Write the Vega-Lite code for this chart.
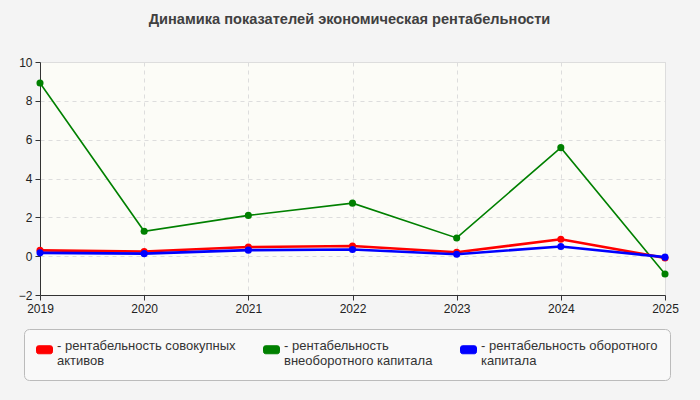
{
  "$schema": "https://vega.github.io/schema/vega-lite/v6.json",
  "width": 625,
  "height": 233,
  "autosize": {"type": "none"},
  "padding": {"left": 40, "top": 62, "right": 35, "bottom": 105},
  "background": "#f4f4f4",
  "title": {
    "text": "Динамика показателей экономическая рентабельности",
    "font": "Liberation Sans",
    "fontSize": 14.6,
    "fontWeight": "bold",
    "color": "#404040",
    "anchor": "middle",
    "dx": -3,
    "offset": 29
  },
  "config": {
    "view": {"fill": "#fcfcf7", "stroke": "#dddddd"},
    "axis": {
      "labelFont": "Liberation Sans",
      "labelFontSize": 12,
      "labelColor": "#222222",
      "domainColor": "#333333",
      "tickColor": "#333333",
      "tickSize": 5,
      "gridColor": "#dddddd",
      "gridDash": [4, 4],
      "title": null
    }
  },
  "data": {
    "values": [
      {"year": 2019, "series": "рентабельность совокупных активов", "value": 0.3},
      {"year": 2020, "series": "рентабельность совокупных активов", "value": 0.24},
      {"year": 2021, "series": "рентабельность совокупных активов", "value": 0.47},
      {"year": 2022, "series": "рентабельность совокупных активов", "value": 0.52},
      {"year": 2023, "series": "рентабельность совокупных активов", "value": 0.2},
      {"year": 2024, "series": "рентабельность совокупных активов", "value": 0.87},
      {"year": 2025, "series": "рентабельность совокупных активов", "value": -0.09},
      {"year": 2019, "series": "рентабельность внеоборотного капитала", "value": 8.92},
      {"year": 2020, "series": "рентабельность внеоборотного капитала", "value": 1.28},
      {"year": 2021, "series": "рентабельность внеоборотного капитала", "value": 2.1},
      {"year": 2022, "series": "рентабельность внеоборотного капитала", "value": 2.73},
      {"year": 2023, "series": "рентабельность внеоборотного капитала", "value": 0.94},
      {"year": 2024, "series": "рентабельность внеоборотного капитала", "value": 5.59},
      {"year": 2025, "series": "рентабельность внеоборотного капитала", "value": -0.92},
      {"year": 2019, "series": "рентабельность оборотного капитала", "value": 0.17},
      {"year": 2020, "series": "рентабельность оборотного капитала", "value": 0.13},
      {"year": 2021, "series": "рентабельность оборотного капитала", "value": 0.31},
      {"year": 2022, "series": "рентабельность оборотного капитала", "value": 0.34},
      {"year": 2023, "series": "рентабельность оборотного капитала", "value": 0.1},
      {"year": 2024, "series": "рентабельность оборотного капитала", "value": 0.5},
      {"year": 2025, "series": "рентабельность оборотного капитала", "value": -0.05}
    ]
  },
  "encoding": {
    "x": {
      "field": "year",
      "type": "quantitative",
      "scale": {"domain": [2019, 2025], "nice": false, "zero": false},
      "axis": {"values": [2019, 2020, 2021, 2022, 2023, 2024, 2025], "format": "d", "labelFlush": false, "labelPadding": 3}
    },
    "y": {
      "field": "value",
      "type": "quantitative",
      "scale": {"domain": [-2, 10], "nice": false},
      "axis": {"values": [-2, 0, 2, 4, 6, 8, 10], "labelPadding": 3}
    },
    "color": {
      "field": "series",
      "type": "nominal",
      "scale": {
        "domain": ["рентабельность совокупных активов", "рентабельность внеоборотного капитала", "рентабельность оборотного капитала"],
        "range": ["#ff0000", "#008000", "#0000ff"]
      },
      "legend": {
        "title": null,
        "orient": "none",
        "legendX": -16,
        "legendY": 267,
        "direction": "horizontal",
        "columns": 3,
        "columnPadding": 25,
        "padding": 12,
        "strokeColor": "#bbbbbb",
        "fillColor": "#f9f9f9",
        "cornerRadius": 5,
        "symbolType": "M-0.75,-0.5 H0.75 A0.25,0.25 0 0 1 1,-0.25 V0.25 A0.25,0.25 0 0 1 0.75,0.5 H-0.75 A0.25,0.25 0 0 1 -1,0.25 V-0.25 A0.25,0.25 0 0 1 -0.75,-0.5 Z",
        "symbolSize": 256,
        "symbolStrokeWidth": 1,
        "symbolOffset": 0,
        "labelFont": "Liberation Sans",
        "labelFontSize": 13,
        "labelColor": "#333333",
        "labelLimit": 300,
        "labelOffset": 4,
        "labelBaseline": "alphabetic",
        "labelExpr": "datum.label == 'рентабельность совокупных активов' ? ['- рентабельность совокупных', '\u00a0\u00a0активов'] : datum.label == 'рентабельность внеоборотного капитала' ? ['- рентабельность', '\u00a0\u00a0внеоборотного капитала'] : ['- рентабельность оборотного', '\u00a0\u00a0капитала']"
      }
    }
  },
  "layer": [
    {
      "transform": [{"filter": "datum.series == 'рентабельность внеоборотного капитала'"}],
      "layer": [
        {"mark": {"type": "line", "strokeWidth": 1.6}},
        {"mark": {"type": "point", "filled": true, "size": 50, "opacity": 1}}
      ]
    },
    {
      "transform": [{"filter": "datum.series == 'рентабельность совокупных активов'"}],
      "layer": [
        {"mark": {"type": "line", "strokeWidth": 2.6}},
        {"mark": {"type": "point", "filled": true, "size": 50, "opacity": 1}}
      ]
    },
    {
      "transform": [{"filter": "datum.series == 'рентабельность оборотного капитала'"}],
      "layer": [
        {"mark": {"type": "line", "strokeWidth": 2.6}},
        {"mark": {"type": "point", "filled": true, "size": 50, "opacity": 1}}
      ]
    }
  ]
}
